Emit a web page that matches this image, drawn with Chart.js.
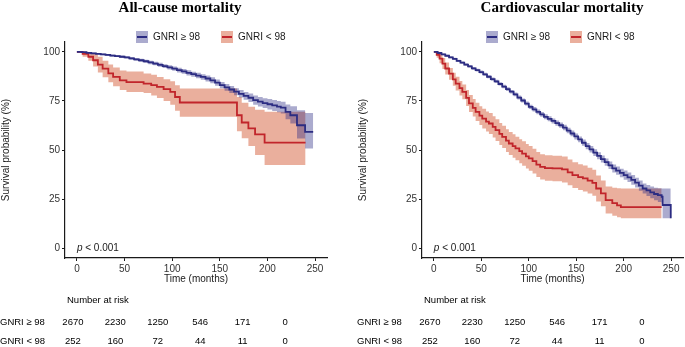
<!DOCTYPE html>
<html>
<head>
<meta charset="utf-8">
<script src="https://cdn.jsdelivr.net/npm/chart.js@4.4.0/dist/chart.umd.min.js"></script>
<style>
    html, body { margin: 0; padding: 0; background: #fff; }
    #wrap { position: relative; width: 685px; height: 347px; }
    canvas { position: absolute; top: 0; }
</style>
</head>
<body>
<div id="wrap">
    <canvas id="allCause" width="340" height="347" style="left:0; width:340px; height:347px;"></canvas>
    <canvas id="cardio" width="345" height="347" style="left:340px; width:345px; height:347px;"></canvas>
</div>
<script>
const xTicks = [0, 50, 100, 150, 200, 250];
const yTicks = [0, 25, 50, 75, 100];
const groupLabels = ['GNRI ≥ 98', 'GNRI < 98'];
const riskTimes = [0, 50, 100, 150, 200, 250];
const riskHigh = [2670, 2230, 1250, 546, 171, 0];
const riskLow = [252, 160, 72, 44, 11, 0];

// All-cause mortality, GNRI >= 98
const acHighTime  = [0, 5, 10, 15, 20, 25, 30, 35, 40, 45, 50, 55, 60, 65, 70, 75, 80, 85, 90, 95, 100, 105, 110, 115, 120, 125, 130, 135, 140, 145, 150, 155, 160, 165, 170, 175, 180, 185, 190, 195, 200, 205, 210, 214, 219, 224, 231, 239.5, 248];
const acHighSurv  = [100, 99.8, 99.5, 99.2, 99, 98.7, 98.4, 98.1, 97.8, 97.5, 97.2, 96.7, 96.2, 95.7, 95.2, 94.6, 94, 93.4, 92.7, 92.1, 91.4, 90.7, 90, 89.3, 88.6, 87.9, 87.2, 86.4, 85.5, 84.3, 83, 81.9, 80.8, 79.7, 78.6, 77.6, 76.6, 75.4, 74.6, 73.9, 73.3, 72.7, 72.1, 71.6, 69.4, 67.7, 62.6, 59.2, 59.2];
const acHighUpper = [100, 100, 99.8, 99.6, 99.4, 99.2, 98.9, 98.6, 98.4, 98.1, 97.8, 97.4, 96.9, 96.5, 96, 95.5, 94.9, 94.4, 93.7, 93.2, 92.5, 91.9, 91.2, 90.6, 89.9, 89.3, 88.6, 87.9, 87, 85.9, 84.6, 83.6, 82.6, 81.5, 80.5, 79.6, 78.8, 77.7, 77, 76.4, 76, 75.5, 75, 74.6, 73.2, 72.3, 70.3, 68.9, 68.9];
const acHighLower = [100, 99.6, 99.2, 98.8, 98.6, 98.2, 97.9, 97.6, 97.3, 96.9, 96.6, 96, 95.5, 94.9, 94.4, 93.7, 93.1, 92.4, 91.7, 91, 90.3, 89.5, 88.8, 88, 87.3, 86.5, 85.8, 84.9, 84, 82.7, 81.4, 80.2, 79, 77.9, 76.7, 75.6, 74.4, 73.1, 72.2, 71.4, 70.6, 69.9, 69.2, 68.6, 65.6, 63.5, 55.9, 50.8, 50.8];

// All-cause mortality, GNRI < 98
const acLowTime  = [0, 6, 12, 17, 22, 27, 33, 38, 45, 52, 70, 78, 84, 91, 98, 103, 108, 168, 173, 180, 187, 197, 240];
const acLowSurv  = [100, 99, 97.5, 95.7, 93.5, 91.4, 89, 87.2, 85.5, 84.6, 83.8, 83, 82.1, 81, 79.6, 77, 74.2, 67.7, 64, 61, 58, 53.8, 53.8];
const acLowUpper = [100, 100, 99.5, 99, 97.5, 95.5, 93.5, 92, 90.5, 90, 89, 88.3, 87.2, 86, 85, 83, 81.3, 77, 74, 72, 70.5, 69.5, 69.5];
const acLowLower = [100, 97.5, 95.5, 92.5, 89.5, 87, 84.5, 82.5, 80.5, 79.5, 79, 77.8, 76.5, 75, 73, 70, 66.9, 59.5, 56, 52, 47.5, 42.3, 42.3];

// Cardiovascular mortality, GNRI >= 98
const cvHighTime  = [0, 4, 8, 12, 16, 20, 24, 28, 32, 36, 40, 44, 48, 52, 56, 60, 64, 68, 72, 76, 80, 84, 88, 92, 96, 100, 104, 108, 112, 116, 120, 124, 128, 132, 136, 140, 144, 148, 152, 156, 160, 164, 168, 172, 176, 180, 184, 188, 192, 196, 200, 204, 208, 212, 216, 220, 224, 228, 232, 236, 240, 241, 249.6];
const cvHighSurv  = [100, 99.4, 98.7, 98, 97.2, 96.4, 95.4, 94.5, 93.5, 92.6, 91.6, 90.7, 89.7, 88.5, 87.3, 86.1, 84.9, 83.6, 82.3, 81, 79.7, 78.3, 76.7, 75.2, 73.6, 72, 70.7, 69.4, 68.1, 66.9, 65.9, 64.8, 63.7, 62.6, 61.4, 59.9, 58.4, 56.9, 55.4, 53.7, 52, 50.3, 48.7, 47, 45.4, 43.8, 42.2, 40.6, 39.5, 38.3, 37.2, 36.1, 34.8, 33.4, 31.9, 30.4, 29.4, 28.4, 27.6, 27, 26.2, 22, 15.2];
const cvHighUpper = [100, 99.7, 99.1, 98.5, 97.7, 97, 96, 95.1, 94.2, 93.3, 92.3, 91.4, 90.5, 89.3, 88.1, 86.9, 85.8, 84.5, 83.2, 81.9, 80.6, 79.3, 77.7, 76.2, 74.7, 73.1, 71.9, 70.6, 69.3, 68.2, 67.2, 66.1, 65, 64, 62.8, 61.3, 59.9, 58.4, 56.9, 55.3, 53.6, 52, 50.4, 48.8, 47.2, 45.7, 44.1, 42.6, 41.6, 40.5, 39.5, 38.5, 37.3, 35.9, 34.5, 33, 32.2, 31.4, 30.8, 30.5, 30.4, 30.4, 30.4];
const cvHighLower = [100, 99.1, 98.3, 97.5, 96.7, 95.9, 94.8, 93.9, 92.9, 92, 90.9, 90, 89, 87.8, 86.5, 85.3, 84.1, 82.8, 81.4, 80.1, 78.8, 77.4, 75.7, 74.2, 72.6, 70.9, 69.6, 68.2, 66.9, 65.7, 64.7, 63.5, 62.4, 61.3, 60, 58.5, 57, 55.4, 53.9, 52.2, 50.4, 48.7, 47, 45.3, 43.6, 42, 40.3, 38.6, 37.4, 36.1, 34.9, 33.7, 32.3, 30.9, 29.3, 27.8, 26.6, 25.4, 24.4, 23.5, 22.9, 15.2, 15.2];

// Cardiovascular mortality, GNRI < 98
const cvLowTime  = [0, 3, 6, 9, 12, 16, 20, 23, 27, 30, 34, 37, 41, 44, 48, 51, 55, 58, 62, 65, 69, 72, 76, 79, 83, 86, 90, 93, 97, 100, 104, 108, 112, 117, 125, 135, 141, 146, 152, 157, 162, 167, 171, 176, 181, 188, 193, 197, 240];
const cvLowSurv  = [100, 98.5, 96.5, 94, 91.5, 88.9, 86, 83.8, 81.5, 79.6, 76.5, 73.7, 71.5, 69.4, 67.5, 66, 64.5, 63.5, 61.8, 60.1, 58.2, 56.7, 54.8, 53.3, 52, 50.8, 49.4, 48.2, 46.8, 45.7, 44.3, 42.6, 41.4, 40.8, 40.6, 40.1, 38.6, 37.2, 36.2, 35.5, 34.4, 33.3, 30.4, 27.9, 24.5, 22.9, 21.8, 20.9, 20.9];
const cvLowUpper = [100, 100, 98.8, 96.8, 94.5, 91.8, 89.3, 87.3, 85.2, 83.4, 80.6, 78, 76, 74, 72.3, 71, 69.6, 68.8, 67.2, 65.6, 63.8, 62.4, 60.6, 59.2, 58, 56.8, 55.5, 54.4, 53, 52, 50.6, 49, 47.8, 47.3, 47.1, 46.7, 45.2, 43.8, 42.8, 42.1, 41, 39.9, 37, 34.5, 31.4, 30.8, 30.5, 30.4, 30.4];
const cvLowLower = [100, 97, 94.2, 91.2, 88.5, 85.8, 82.7, 80.3, 77.8, 75.8, 72.4, 69.4, 67, 64.8, 62.7, 61, 59.4, 58.2, 56.4, 54.6, 52.6, 51, 49, 47.4, 46, 44.8, 43.3, 42, 40.6, 39.4, 38, 36.2, 35, 34.3, 34.1, 33.5, 32, 30.6, 29.6, 28.9, 27.8, 26.7, 23.8, 21.3, 17.6, 16.5, 15.8, 15.2, 15.2];

const BLUE = '#2c2c82';
const RED = '#c1252b';
const BLUE_BAND = 'rgba(46, 45, 132, 0.4)';
const RED_BAND = 'rgba(214, 96, 60, 0.5)';
const SANS = '"Liberation Sans", Arial, sans-serif';
const AXIS_COLOR = '#1a1a1a';

const pts = (t, v) => t.map((x, i) => ({ x: x, y: v[i] }));

function kmDatasets(hi, lo) {
    const line = (t, v, color) => ({
        data: pts(t, v), borderColor: color, borderWidth: 1.8,
        stepped: true, pointRadius: 0, fill: false
    });
    const band = (t, v, color, fill) => ({
        data: pts(t, v), borderColor: 'rgba(0,0,0,0)', borderWidth: 0,
        backgroundColor: color, stepped: true, pointRadius: 0, fill: fill
    });
    return [
        line(hi[0], hi[1], BLUE),
        line(lo[0], lo[1], RED),
        band(hi[0], hi[2], BLUE_BAND, '+1'),
        band(hi[0], hi[3], BLUE_BAND, false),
        band(lo[0], lo[2], RED_BAND, '+1'),
        band(lo[0], lo[3], RED_BAND, false)
    ];
}

// titles, legend, p value and the risk table
const kmDecor = {
    id: 'kmDecor',
    afterDraw(chart, args, o) {
        const { ctx, chartArea, scales: { x, y } } = chart;
        const x0 = x.getPixelForValue(0);
        ctx.save();
        ctx.textBaseline = 'middle';

        ctx.fillStyle = '#000';
        ctx.font = 'bold 15px "Liberation Serif", "Times New Roman", serif';
        ctx.textAlign = 'center';
        ctx.fillText(o.title, o.titleX, 8);

        ctx.font = '10px ' + SANS;
        ctx.textAlign = 'left';
        const items = [[BLUE_BAND, BLUE], [RED_BAND, RED]];
        items.forEach((it, i) => {
            const px = o.legendX[i];
            ctx.fillStyle = it[0];
            ctx.fillRect(px, 31, 12, 12);
            ctx.strokeStyle = it[1];
            ctx.lineWidth = 2;
            ctx.beginPath();
            ctx.moveTo(px + 1, 37);
            ctx.lineTo(px + 11, 37);
            ctx.stroke();
            ctx.fillStyle = AXIS_COLOR;
            ctx.fillText(groupLabels[i], px + 17, 37.5);
        });

        const py = y.getPixelForValue(0);
        ctx.font = 'italic 10px ' + SANS;
        ctx.fillText('p', x0, py);
        const pw = ctx.measureText('p').width;
        ctx.font = '10px ' + SANS;
        ctx.fillText(' < 0.001', x0 + pw, py);

        ctx.fillStyle = '#000';
        ctx.font = '9.5px ' + SANS;
        ctx.fillText('Number at risk', chartArea.left + 2, 300);
        const rows = [[groupLabels[0], riskHigh, 322], [groupLabels[1], riskLow, 341]];
        rows.forEach(r => {
            ctx.textAlign = 'left';
            ctx.fillText(r[0], y.left, r[2]);
            ctx.textAlign = 'center';
            r[1].forEach((v, i) => {
                ctx.fillText(String(v), x0 - 4 + riskTimes[i] * 0.8485, r[2]);
            });
        });
        ctx.restore();
    }
};

function axis(ticks, min, max, title, fitKey, fitSize) {
    return {
        type: 'linear',
        min: min,
        max: max,
        afterBuildTicks: s => { s.ticks = ticks.map(v => ({ value: v })); },
        afterFit: s => { s[fitKey] = fitSize; },
        ticks: { color: '#333', padding: 2, font: { family: SANS, size: 10 } },
        grid: { display: true, drawOnChartArea: false, drawTicks: true, tickLength: 3, color: AXIS_COLOR },
        border: { display: true, color: AXIS_COLOR, width: 1.2 },
        title: { display: true, text: title, color: AXIS_COLOR, padding: 0, font: { family: SANS, size: 10 } }
    };
}

window.KaplanMeierPanel = function (canvasId, hi, lo, decor, padLeft, padRight) {
    const ctx = document.getElementById(canvasId).getContext('2d');
    return new Chart(ctx, {
        type: 'line',
        data: { datasets: kmDatasets(hi, lo) },
        options: {
            responsive: false,
            animation: false,
            devicePixelRatio: 1,
            layout: { padding: { left: padLeft, right: padRight, top: 42, bottom: 62 } },
            plugins: {
                legend: { display: false },
                tooltip: { enabled: false },
                title: { display: false },
                kmDecor: decor
            },
            scales: {
                x: axis(xTicks, -12.5, 262.5, 'Time (months)', 'height', 27),
                y: axis(yTicks, -5, 105, 'Survival probability (%)', 'width', 65)
            }
        },
        plugins: [kmDecor]
    });
};

KaplanMeierPanel('allCause',
    [acHighTime, acHighSurv, acHighUpper, acHighLower],
    [acLowTime, acLowSurv, acLowUpper, acLowLower],
    { title: 'All-cause mortality', titleX: 180, legendX: [136, 221] }, 0, 13);

KaplanMeierPanel('cardio',
    [cvHighTime, cvHighSurv, cvHighUpper, cvHighLower],
    [cvLowTime, cvLowSurv, cvLowUpper, cvLowLower],
    { title: 'Cardiovascular mortality', titleX: 222, legendX: [146, 230] }, 17, 2);
</script>
</body>
</html>
